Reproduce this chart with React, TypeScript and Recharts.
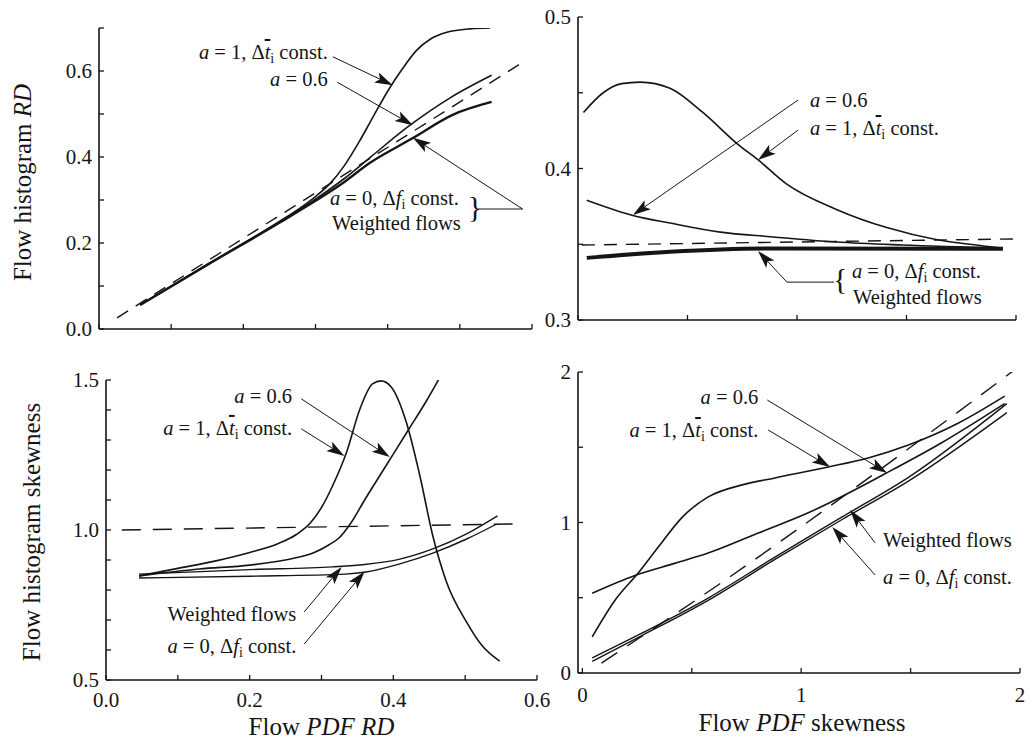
import React from 'react';
import { LineChart, Line, XAxis, YAxis, ReferenceLine, ReferenceDot, Label } from 'recharts';

type P = [number, number];

// ---------- Panel 1: flow histogram RD vs flow PDF RD ----------
const rdRdDiag: P[] = [[0.025, 0.026], [0.587, 0.62]];
const rdRdA1: P[] = [[0.057, 0.056], [0.15, 0.15], [0.25, 0.25], [0.28, 0.283], [0.3, 0.308], [0.32, 0.338], [0.34, 0.38], [0.36, 0.434], [0.38, 0.494], [0.4, 0.553], [0.42, 0.604], [0.44, 0.648], [0.46, 0.675], [0.482, 0.69], [0.514, 0.698], [0.542, 0.7]];
const rdRdA06: P[] = [[0.057, 0.056], [0.15, 0.15], [0.25, 0.249], [0.3, 0.302], [0.34, 0.35], [0.375, 0.398], [0.431, 0.474], [0.486, 0.537], [0.544, 0.59]];
const rdRdA0: P[] = [[0.057, 0.056], [0.15, 0.149], [0.25, 0.247], [0.3, 0.298], [0.34, 0.342], [0.375, 0.386], [0.435, 0.444], [0.49, 0.498], [0.544, 0.528]];

// ---------- Panel 2: flow histogram RD vs flow PDF skewness ----------
const rdSkDiag: P[] = [[0.018, 0.3495], [1.995, 0.3535]];
const rdSkA1: P[] = [[0.025, 0.437], [0.115, 0.45], [0.2, 0.456], [0.285, 0.457], [0.42, 0.453], [0.57, 0.437], [0.73, 0.416], [0.82, 0.406], [0.95, 0.39], [1.18, 0.373], [1.41, 0.361], [1.64, 0.353], [1.79, 0.35], [1.94, 0.3475]];
const rdSkA06: P[] = [[0.04, 0.379], [0.25, 0.369], [0.42, 0.364], [0.65, 0.358], [0.88, 0.355], [1.18, 0.3515], [1.48, 0.3495], [1.94, 0.3475]];
const rdSkA0: P[] = [[0.04, 0.341], [0.42, 0.345], [0.88, 0.3472], [1.94, 0.347]];

// ---------- Panel 3: flow histogram skewness vs flow PDF RD ----------
const skRdDiag: P[] = [[0.022, 1.0], [0.566, 1.02]];
const skRdA1: P[] = [[0.046, 0.847], [0.1, 0.872], [0.153, 0.897], [0.2, 0.925], [0.24, 0.955], [0.265, 0.985], [0.285, 1.025], [0.3, 1.075], [0.315, 1.145], [0.335, 1.26], [0.353, 1.4], [0.371, 1.487], [0.383, 1.497], [0.397, 1.477], [0.418, 1.36], [0.437, 1.18], [0.455, 0.98], [0.474, 0.827], [0.502, 0.693], [0.524, 0.613], [0.548, 0.563]];
const skRdA06: P[] = [[0.046, 0.847], [0.13, 0.87], [0.2, 0.883], [0.26, 0.905], [0.29, 0.925], [0.31, 0.95], [0.325, 0.975], [0.34, 1.02], [0.36, 1.1], [0.39, 1.215], [0.42, 1.33], [0.446, 1.43], [0.469, 1.527]];
const skRdW: P[] = [[0.046, 0.853], [0.2, 0.868], [0.315, 0.877], [0.36, 0.885], [0.409, 0.903], [0.455, 0.937], [0.502, 0.987], [0.545, 1.047]];
const skRdA0: P[] = [[0.046, 0.84], [0.2, 0.846], [0.333, 0.853], [0.362, 0.86], [0.409, 0.887], [0.455, 0.923], [0.502, 0.97], [0.544, 1.02]];

// ---------- Panel 4: flow histogram skewness vs flow PDF skewness ----------
const skSkDiag: P[] = [[0.087, 0.066], [0.62, 0.585], [1.99, 2.03]];
const skSkA1: P[] = [[0.045, 0.24], [0.15, 0.485], [0.255, 0.664], [0.347, 0.837], [0.457, 1.036], [0.575, 1.17], [0.73, 1.25], [0.88, 1.296], [1.124, 1.369], [1.306, 1.429], [1.49, 1.515], [1.717, 1.66], [1.93, 1.84]];
const skSkA06: P[] = [[0.045, 0.53], [0.24, 0.648], [0.425, 0.73], [0.575, 0.797], [0.804, 0.93], [1.03, 1.063], [1.39, 1.329], [1.64, 1.528], [1.93, 1.79]];
const skSkW: P[] = [[0.045, 0.1], [0.274, 0.266], [0.575, 0.498], [0.88, 0.77], [1.187, 1.037], [1.49, 1.3], [1.94, 1.79]];
const skSkA0: P[] = [[0.045, 0.078], [0.274, 0.25], [0.575, 0.483], [0.88, 0.755], [1.187, 1.02], [1.49, 1.275], [1.94, 1.73]];

// ---------- Axis ticks ----------
const rdTicks = [0, 0.1, 0.2, 0.3, 0.4, 0.5, 0.6];
const rdMajor = [0, 0.2, 0.4, 0.6];
const rdHistTicks = [0, 0.1, 0.2, 0.3, 0.4, 0.5, 0.6, 0.7];
const rdHistMajor = [0, 0.2, 0.4, 0.6];
const rdHist2Ticks = [0.3, 0.35, 0.4, 0.45, 0.5];
const rdHist2Major = [0.3, 0.4, 0.5];
const skTicks = [0, 0.5, 1, 1.5, 2];
const skMajor = [0, 1, 2];
const skHistTicks = [0.5, 0.6, 0.7, 0.8, 0.9, 1.0, 1.1, 1.2, 1.3, 1.4, 1.5];
const skHistMajor = [0.5, 1.0, 1.5];

// ---------- Annotations (data coordinates) ----------
type Lab = { kind: string; x: number; y: number; anchor: 'start' | 'end' };
type Arr = { from: P; to: P; head: boolean };

const labels1: Lab[] = [
  { kind: 'a1', x: 0.317, y: 0.628, anchor: 'end' },
  { kind: 'a06', x: 0.317, y: 0.565, anchor: 'end' },
  { kind: 'a0', x: 0.32, y: 0.288, anchor: 'start' },
  { kind: 'wf', x: 0.323, y: 0.23, anchor: 'start' },
  { kind: 'rbrace', x: 0.511, y: 0.26, anchor: 'start' },
];
const arrows1: Arr[] = [
  { from: [0.324, 0.633], to: [0.407, 0.567], head: true },
  { from: [0.33, 0.574], to: [0.435, 0.474], head: true },
  { from: [0.525, 0.279], to: [0.587, 0.279], head: false },
  { from: [0.587, 0.279], to: [0.435, 0.445], head: true },
];
const labels2: Lab[] = [
  { kind: 'a06', x: 1.059, y: 0.4406, anchor: 'start' },
  { kind: 'a1', x: 1.059, y: 0.4221, anchor: 'start' },
  { kind: 'a0', x: 1.251, y: 0.3275, anchor: 'start' },
  { kind: 'wf', x: 1.256, y: 0.3104, anchor: 'start' },
  { kind: 'lbrace', x: 1.164, y: 0.3205, anchor: 'start' },
];
const arrows2: Arr[] = [
  { from: [1.005, 0.4452], to: [0.251, 0.3693], head: true },
  { from: [1.005, 0.4254], to: [0.822, 0.4056], head: true },
  { from: [1.169, 0.325], to: [0.954, 0.325], head: false },
  { from: [0.954, 0.325], to: [0.822, 0.3455], head: true },
];
const labels3: Lab[] = [
  { kind: 'a06', x: 0.259, y: 1.423, anchor: 'end' },
  { kind: 'a1', x: 0.259, y: 1.317, anchor: 'end' },
  { kind: 'wf', x: 0.265, y: 0.697, anchor: 'end' },
  { kind: 'a0', x: 0.265, y: 0.59, anchor: 'end' },
];
const arrows3: Arr[] = [
  { from: [0.272, 1.437], to: [0.395, 1.243], head: true },
  { from: [0.272, 1.337], to: [0.332, 1.247], head: true },
  { from: [0.276, 0.727], to: [0.328, 0.877], head: true },
  { from: [0.276, 0.62], to: [0.36, 0.862], head: true },
];
const labels4: Lab[] = [
  { kind: 'a06', x: 0.804, y: 1.787, anchor: 'end' },
  { kind: 'a1', x: 0.804, y: 1.568, anchor: 'end' },
  { kind: 'wf', x: 1.374, y: 0.837, anchor: 'start' },
  { kind: 'a0', x: 1.374, y: 0.591, anchor: 'start' },
];
const arrows4: Arr[] = [
  { from: [0.845, 1.814], to: [1.393, 1.329], head: true },
  { from: [0.849, 1.615], to: [1.132, 1.369], head: true },
  { from: [1.338, 0.864], to: [1.224, 1.083], head: true },
  { from: [1.338, 0.651], to: [1.142, 0.97], head: true },
];

const FONT = 'Liberation Serif, Tinos, DejaVu Serif, Times New Roman, serif';
const INK = '#151515';
const FS = { fontFamily: FONT };
const ANN = 20.5;
const TICK = 21;

const toPts = (a: P[]) => a.map(([x, y]) => ({ x, y }));
const isIn = (list: number[], v: number) => list.some((m) => Math.abs(m - v) < 1e-9);

function annText(kind: string, cx: number, cy: number, anchor: string) {
  const common: any = { x: cx, y: cy, fontFamily: FONT, style: FS, fontSize: ANN, fill: INK, textAnchor: anchor };
  if (kind === 'a1')
    return (
      <text {...common}>
        <tspan fontStyle="italic">a</tspan>
        <tspan>{' = 1, Δ'}</tspan>
        <tspan fontStyle="italic" style={{ textDecoration: 'overline' }}>t</tspan>
        <tspan fontSize={14} dy={4}>i</tspan>
        <tspan dy={-4}>{' const.'}</tspan>
      </text>
    );
  if (kind === 'a06')
    return (
      <text {...common}>
        <tspan fontStyle="italic">a</tspan>
        <tspan>{' = 0.6'}</tspan>
      </text>
    );
  if (kind === 'a0')
    return (
      <text {...common}>
        <tspan fontStyle="italic">a</tspan>
        <tspan>{' = 0, Δ'}</tspan>
        <tspan fontStyle="italic">f</tspan>
        <tspan fontSize={14} dy={4}>i</tspan>
        <tspan dy={-4}>{' const.'}</tspan>
      </text>
    );
  if (kind === 'wf') return <text {...common}>Weighted flows</text>;
  if (kind === 'rbrace') return <text {...common} fontSize={30}>{'}'}</text>;
  if (kind === 'lbrace') return <text {...common} fontSize={30}>{'{'}</text>;
  return <g />;
}

const arrowShape = (head: boolean) => (p: any) => {
  const { x1, y1, x2, y2 } = p;
  if (!head) return <line x1={x1} y1={y1} x2={x2} y2={y2} stroke={INK} strokeWidth={1} />;
  const dx = x2 - x1;
  const dy = y2 - y1;
  const len = Math.hypot(dx, dy) || 1;
  const ux = dx / len;
  const uy = dy / len;
  const L = 18;
  const W = 5.5;
  const bx = x2 - ux * L;
  const by = y2 - uy * L;
  const nx = x2 - ux * (L - 4);
  const ny = y2 - uy * (L - 4);
  const pts = `${x2},${y2} ${bx - uy * W},${by + ux * W} ${nx},${ny} ${bx + uy * W},${by - ux * W}`;
  return (
    <g>
      <line x1={x1} y1={y1} x2={nx} y2={ny} stroke={INK} strokeWidth={1} />
      <polygon points={pts} fill={INK} />
    </g>
  );
};

type Series = { pts: P[]; w: number; dash?: string };

type PanelProps = {
  left: number;
  top: number;
  width: number;
  height: number;
  margin: { top: number; right: number; bottom: number; left: number };
  yWidth: number;
  xHeight: number;
  xDomain: [number, number];
  yDomain: [number, number];
  xTicks: number[];
  yTicks: number[];
  xMajor: number[];
  yMajor: number[];
  xFmt: (v: number) => string;
  yFmt: (v: number) => string;
  xLabelDy: number;
  series: Series[];
  labels: Lab[];
  arrows: Arr[];
  xTitle?: React.ReactNode;
  xTitleDx?: number;
  xTitleDy?: number;
  yTitle?: React.ReactNode;
  yTitleX?: number;
  yTitleDy?: number;
};

function Panel(pp: PanelProps) {
  const yTick = (props: any) => {
    const { x, y, payload } = props;
    const v = payload.value;
    return (
      <g>
        <line x1={x} y1={y} x2={x + 5} y2={y} stroke={INK} strokeWidth={1.3} />
        {isIn(pp.yMajor, v) && (
          <text x={x - 7} y={y + 7} textAnchor="end" fontFamily={FONT} style={FS} fontSize={TICK} fill={INK}>
            {pp.yFmt(v)}
          </text>
        )}
      </g>
    );
  };
  const xTick = (props: any) => {
    const { x, y, payload } = props;
    const v = payload.value;
    return (
      <g>
        <line x1={x} y1={y} x2={x} y2={y - 5} stroke={INK} strokeWidth={1.3} />
        {isIn(pp.xMajor, v) && (
          <text x={x} y={y + pp.xLabelDy} textAnchor="middle" fontFamily={FONT} style={FS} fontSize={TICK} fill={INK}>
            {pp.xFmt(v)}
          </text>
        )}
      </g>
    );
  };
  return (
    <div style={{ position: 'absolute', left: pp.left, top: pp.top, width: pp.width, height: pp.height }}>
      <LineChart width={pp.width} height={pp.height} margin={pp.margin}>
        <XAxis
          type="number"
          dataKey="x"
          domain={pp.xDomain}
          ticks={pp.xTicks}
          interval={0}
          allowDataOverflow
          height={pp.xHeight}
          tickSize={0}
          tickMargin={0}
          tickLine={false}
          axisLine={{ stroke: INK, strokeWidth: 1.6 }}
          tick={xTick}
        >
          {pp.xTitle && (
            <Label
              content={(lp: any) => {
                const vb = lp.viewBox || {};
                return (
                  <text
                    x={vb.x + vb.width / 2 + (pp.xTitleDx || 0)}
                    y={vb.y + (pp.xTitleDy || 0)}
                    textAnchor="middle"
                    fontFamily={FONT}
                    style={FS}
                    fontSize={25}
                    fill={INK}
                  >
                    {pp.xTitle}
                  </text>
                );
              }}
            />
          )}
        </XAxis>
        <YAxis
          type="number"
          domain={pp.yDomain}
          ticks={pp.yTicks}
          interval={0}
          allowDataOverflow
          width={pp.yWidth}
          tickSize={0}
          tickMargin={0}
          tickLine={false}
          axisLine={{ stroke: INK, strokeWidth: 1.6 }}
          tick={yTick}
        >
          {pp.yTitle && (
            <Label
              content={(lp: any) => {
                const vb = lp.viewBox || {};
                const tx = vb.x + (pp.yTitleX || 0);
                const ty = vb.y + vb.height / 2 + (pp.yTitleDy || 0);
                return (
                  <text
                    x={tx}
                    y={ty}
                    transform={`rotate(-90 ${tx} ${ty})`}
                    textAnchor="middle"
                    fontFamily={FONT}
                    style={FS}
                    fontSize={25}
                    fill={INK}
                  >
                    {pp.yTitle}
                  </text>
                );
              }}
            />
          )}
        </YAxis>
        {pp.series.map((s, i) => (
          <Line
            key={i}
            data={toPts(s.pts)}
            dataKey="y"
            type="monotone"
            dot={false}
            activeDot={false}
            stroke={INK}
            strokeWidth={s.w}
            strokeDasharray={s.dash}
            isAnimationActive={false}
          />
        ))}
        {pp.arrows.map((a, i) => (
          <ReferenceLine
            key={'a' + i}
            segment={[{ x: a.from[0], y: a.from[1] }, { x: a.to[0], y: a.to[1] }]}
            ifOverflow="visible"
            shape={arrowShape(a.head)}
          />
        ))}
        {pp.labels.map((l, i) => (
          <ReferenceDot
            key={'l' + i}
            x={l.x}
            y={l.y}
            r={0}
            ifOverflow="visible"
            shape={(p: any) => annText(l.kind, p.cx, p.cy, l.anchor)}
          />
        ))}
      </LineChart>
    </div>
  );
}

const f1 = (v: number) => v.toFixed(1);
const f0 = (v: number) => String(Math.round(v));
const none = (_v: number) => '';
const DASH_TOP = '13 9';
const DASH_BOTTOM = '19 12';

export default function App() {
  return (
    <div style={{ position: 'absolute', left: 0, top: 0, width: 1030, height: 743, background: '#fff', overflow: 'hidden', fontFamily: FONT }}>
      <Panel
        left={0}
        top={0}
        width={545}
        height={340}
        margin={{ top: 28, right: 13, bottom: 0, left: 0 }}
        yWidth={99}
        xHeight={11}
        xDomain={[0, 0.6]}
        yDomain={[0, 0.7]}
        xTicks={rdTicks}
        yTicks={rdHistTicks}
        xMajor={[]}
        yMajor={rdHistMajor}
        xFmt={none}
        yFmt={f1}
        xLabelDy={0}
        series={[
          { pts: rdRdDiag, w: 1.4, dash: DASH_TOP },
          { pts: rdRdA1, w: 1.6 },
          { pts: rdRdA06, w: 1.6 },
          { pts: rdRdA0, w: 2.3 },
        ]}
        labels={labels1}
        arrows={arrows1}
        yTitle={<><tspan>Flow histogram </tspan><tspan fontStyle="italic">RD</tspan></>}
        yTitleX={31}
        yTitleDy={4}
      />
      <Panel
        left={520}
        top={0}
        width={510}
        height={340}
        margin={{ top: 17, right: 14, bottom: 0, left: 0 }}
        yWidth={58}
        xHeight={20}
        xDomain={[0, 2]}
        yDomain={[0.3, 0.5]}
        xTicks={skTicks}
        yTicks={rdHist2Ticks}
        xMajor={[]}
        yMajor={rdHist2Major}
        xFmt={none}
        yFmt={f1}
        xLabelDy={0}
        series={[
          { pts: rdSkDiag, w: 1.4, dash: DASH_TOP },
          { pts: rdSkA1, w: 1.6 },
          { pts: rdSkA06, w: 1.6 },
          { pts: rdSkA0, w: 4 },
        ]}
        labels={labels2}
        arrows={arrows2}
      />
      <Panel
        left={0}
        top={345}
        width={560}
        height={398}
        margin={{ top: 35, right: 23, bottom: 0, left: 0 }}
        yWidth={106}
        xHeight={63}
        xDomain={[0, 0.6]}
        yDomain={[0.5, 1.5]}
        xTicks={rdTicks}
        yTicks={skHistTicks}
        xMajor={rdMajor}
        yMajor={skHistMajor}
        xFmt={f1}
        yFmt={f1}
        xLabelDy={27}
        series={[
          { pts: skRdDiag, w: 1.4, dash: DASH_BOTTOM },
          { pts: skRdA1, w: 1.6 },
          { pts: skRdA06, w: 1.6 },
          { pts: skRdW, w: 1.4 },
          { pts: skRdA0, w: 1.4 },
        ]}
        labels={labels3}
        arrows={arrows3}
        xTitle={<><tspan>Flow </tspan><tspan fontStyle="italic">PDF RD</tspan></>}
        xTitleDx={0}
        xTitleDy={55}
        yTitle={<tspan>Flow histogram skewness</tspan>}
        yTitleX={40}
        yTitleDy={2}
      />
      <Panel
        left={520}
        top={345}
        width={510}
        height={398}
        margin={{ top: 27, right: 10, bottom: 0, left: 0 }}
        yWidth={58}
        xHeight={70}
        xDomain={[-0.02, 2]}
        yDomain={[0, 2]}
        xTicks={skTicks}
        yTicks={skTicks}
        xMajor={skMajor}
        yMajor={skMajor}
        xFmt={f0}
        yFmt={f0}
        xLabelDy={29}
        series={[
          { pts: skSkDiag, w: 1.4, dash: DASH_BOTTOM },
          { pts: skSkA1, w: 1.6 },
          { pts: skSkA06, w: 1.6 },
          { pts: skSkW, w: 1.4 },
          { pts: skSkA0, w: 1.4 },
        ]}
        labels={labels4}
        arrows={arrows4}
        xTitle={<><tspan>Flow </tspan><tspan fontStyle="italic">PDF</tspan><tspan> skewness</tspan></>}
        xTitleDx={3}
        xTitleDy={58}
      />
    </div>
  );
}
